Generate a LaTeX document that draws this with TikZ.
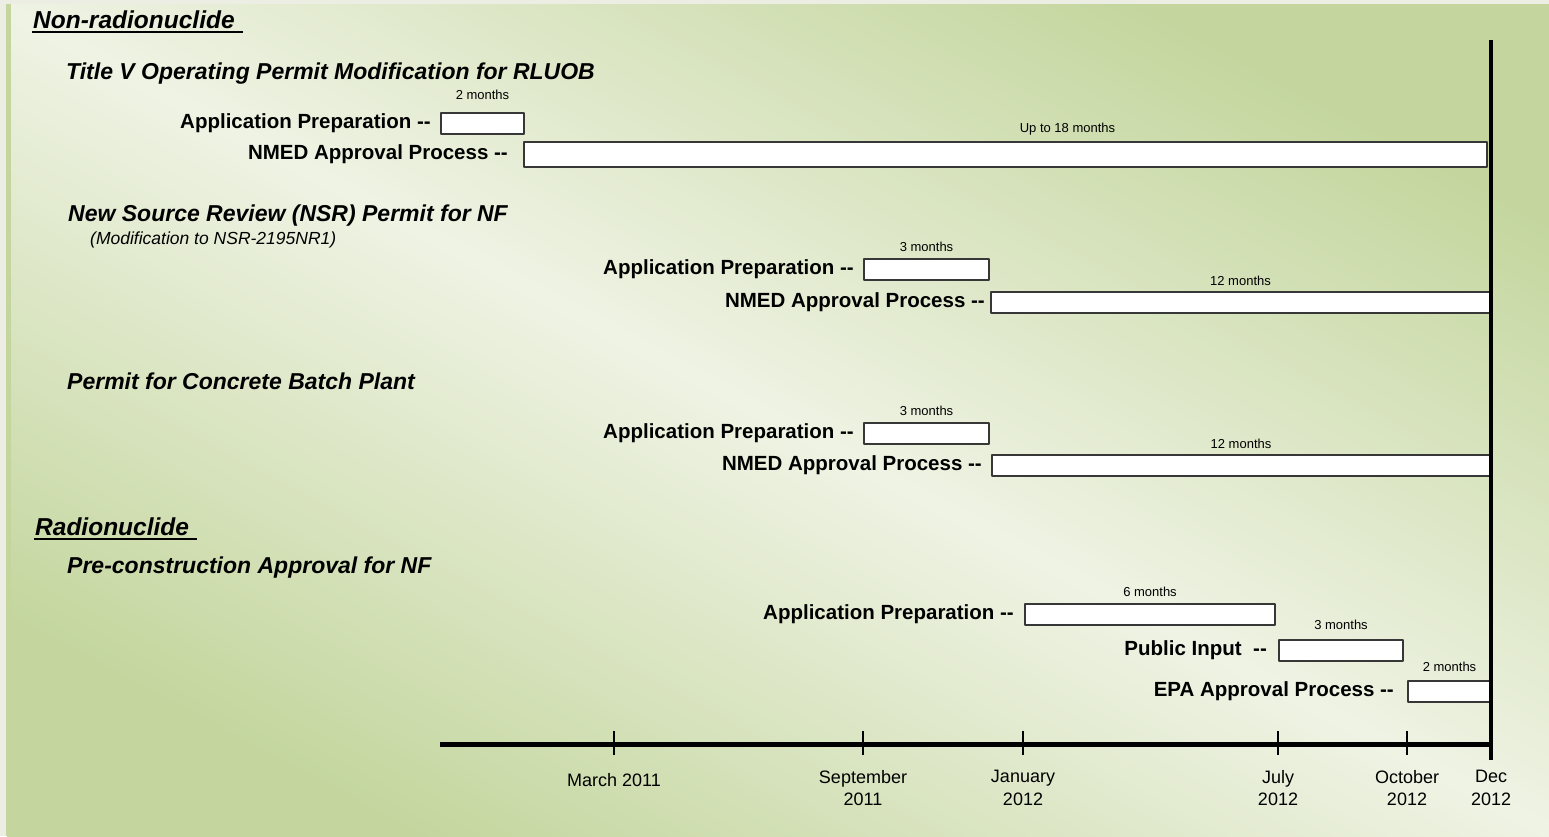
\documentclass[tikz,border=0pt]{standalone}
\usepackage{fontspec}
\setmainfont{Liberation Sans}
\usetikzlibrary{positioning}

\definecolor{bggreen}{RGB}{196,214,158}
\definecolor{bglight}{RGB}{239,243,228}
\definecolor{bgedge}{RGB}{236,238,228}
\definecolor{boxedge}{RGB}{55,55,55}

\begin{document}
\begin{tikzpicture}[x=1pt,y=-1pt,line join=round,every node/.style={inner sep=1pt},
  group/.style={anchor=base west,font=\fontsize{24.5}{27}\selectfont\bfseries\itshape},
  permit/.style={anchor=base west,font=\fontsize{23}{25}\selectfont\bfseries\itshape},
  note/.style={anchor=base west,font=\fontsize{17.5}{20}\selectfont\itshape},
  task/.style={font=\fontsize{20.5}{22}\selectfont\bfseries},
  span/.style={draw=boxedge,line width=2pt,fill=white,anchor=west,inner sep=0pt,minimum height=21pt},
  dur/.style={font=\fontsize{13}{14}\selectfont},
  month/.style={font=\fontsize{18}{22.5}\selectfont,align=center,anchor=north}]
  \def\xend{1491}
  \def\yaxis{744}
  % background
  \fill[bgedge] (0,0) rectangle (1549,836);
  \shade[top color=bggreen,bottom color=bggreen,middle color=bglight,shading angle=-28] (7,4) rectangle (1549,836);
  \fill[bggreen] (6,4) rectangle (11,836);
  \useasboundingbox (0,0) rectangle (1549,836);

  % non-radionuclide permits
  \node[group] (nonrad) at (32,28) {Non-radionuclide};
  \draw[line width=2.5pt] ([yshift=-4pt]nonrad.base west) -- ([xshift=7pt,yshift=-4pt]nonrad.base east);

  \node[permit] (tv) at (65,79) {Title V Operating Permit Modification for RLUOB};
  \node[span,minimum width=83] (tvapp) at (440,123) {};
  \node[task,left=8pt of tvapp] (tvappl) {Application Preparation -{}-};
  \node[dur,above=11pt of tvapp] (tvappd) {2 months};
  \node[span,minimum width=963,minimum height=25] (tvnmed) at (523,154) {};
  \node[task,left=14pt of tvnmed] (tvnmedl) {NMED Approval Process -{}-};
  \node[dur,above=4pt of tvnmed,xshift=62pt] (tvnmedd) {Up to 18 months};

  \node[permit] (nsr) at (67,221) {New Source Review (NSR) Permit for NF};
  \node[note] (nsrmod) at (89,244) {(Modification to NSR-2195NR1)};
  \node[span,minimum width=125] (nsrapp) at (863,269) {};
  \node[task,left=8pt of nsrapp] (nsrappl) {Application Preparation -{}-};
  \node[dur,above=5pt of nsrapp] (nsrappd) {3 months};
  \node[span,minimum width=499] (nsrnmed) at (990,302) {};
  \node[task,left=4pt of nsrnmed] (nsrnmedl) {NMED Approval Process -{}-};
  \node[dur,above=4pt of nsrnmed] (nsrnmedd) {12 months};

  \node[permit] (cbp) at (66,389) {Permit for Concrete Batch Plant};
  \node[span,minimum width=125] (cbpapp) at (863,433.5) {};
  \node[task,left=8pt of cbpapp] (cbpappl) {Application Preparation -{}-};
  \node[dur,above=5pt of cbpapp] (cbpappd) {3 months};
  \node[span,minimum width=498] (cbpnmed) at (991,465.5) {};
  \node[task,left=8pt of cbpnmed] (cbpnmedl) {NMED Approval Process -{}-};
  \node[dur,above=4pt of cbpnmed] (cbpnmedd) {12 months};

  % radionuclide permit
  \node[group] (rad) at (34,535) {Radionuclide};
  \draw[line width=2.5pt] ([yshift=-4pt]rad.base west) -- ([xshift=7pt,yshift=-4pt]rad.base east);

  \node[permit] (pca) at (66,573) {Pre-construction Approval for NF};
  \node[span,minimum width=250] (pcaapp) at (1024,614.5) {};
  \node[task,left=9pt of pcaapp] (pcaappl) {Application Preparation -{}-};
  \node[dur,above=5pt of pcaapp] (pcaappd) {6 months};
  \node[span,minimum width=124] (pcapub) at (1278,650.5) {};
  \node[task,left=10pt of pcapub] (pcapubl) {Public Input\ \ -{}-};
  \node[dur,above=8pt of pcapub] (pcapubd) {3 months};
  \node[span,minimum width=83] (pcaepa) at (1407,691) {};
  \node[task,left=12pt of pcaepa] (pcaepal) {EPA Approval Process -{}-};
  \node[dur,above=7pt of pcaepa] (pcaepad) {2 months};

  % time axis
  \draw[line width=4pt] (\xend,40) -- (\xend,760);
  \draw[line width=5pt] (440,\yaxis) -- (\xend,\yaxis);
  \foreach \tx/\tl in {863/{September\\2011},1023/{January\\2012},1278/{July\\2012},1407/{October\\2012}}{
    \draw[line width=1.2pt] (\tx,731) -- (\tx,755);
    \node[month] (m\tx) at (\tx,769) {\tl};
  }
  \draw[line width=1.2pt] (614,731) -- (614,755);
  \node[month] (mmar) at (614,772) {March 2011};
  \node[month] (mdec) at (\xend,769) {Dec\\2012};
\end{tikzpicture}
\end{document}
